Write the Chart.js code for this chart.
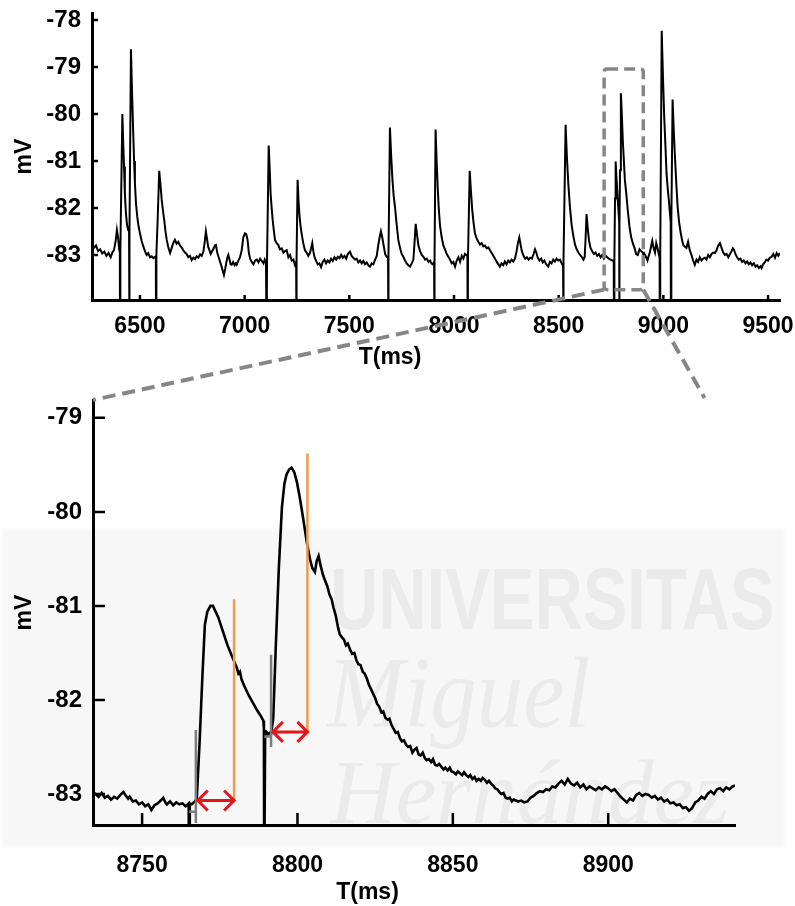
<!DOCTYPE html>
<html>
<head>
<meta charset="utf-8">
<script src="https://cdn.jsdelivr.net/npm/chart.js@4.4.1/dist/chart.umd.min.js"></script>
<style>
  html, body { margin: 0; padding: 0; background: #fff; }
  #page { position: relative; width: 795px; height: 906px; overflow: hidden; }
  #topWrap { position: absolute; left: 0; top: 0; width: 795px; height: 380px; }
  #zoomWrap { position: absolute; left: 0; top: 380px; width: 795px; height: 526px; }
  #overlay { position: absolute; left: 0; top: 0; pointer-events: none; }
  .wm-band { position: absolute; left: 5px; top: 532px; width: 777px; height: 312px;
             background: #f7f7f7; box-shadow: 0 0 6px 3px #f7f7f7; }
  .wm { position: absolute; color: #ebebeb; line-height: 1; white-space: nowrap; transform-origin: left top; }
  .wm-u { left: 330px; top: 548px; font: bold 88px 'Liberation Sans', Arial, sans-serif; transform: scaleX(0.76); }
  .wm-m { left: 327px; top: 635px; font: italic 101px 'Liberation Serif', 'Times New Roman', serif; transform: scaleX(0.92); }
  .wm-h { left: 330px; top: 740px; font: italic 91px 'Liberation Serif', 'Times New Roman', serif; }
</style>
</head>
<body>
<div id="page">
  <div class="wm-band"></div>
  <div class="wm wm-u">UNIVERSITAS</div>
  <div class="wm wm-m">Miguel</div>
  <div class="wm wm-h">Hernández</div>
  <div id="topWrap"><canvas id="overviewChart" width="795" height="380"></canvas></div>
  <div id="zoomWrap"><canvas id="zoomChart" width="795" height="526"></canvas></div>
  <canvas id="overlay" width="795" height="906"></canvas>
</div>
<script>
// upper panel: membrane potential [ms, mV]; stimulus artefacts drop below the axis
const overviewTrace = [
  [6271,-82.74],[6280,-82.85],[6290,-82.80],[6300,-82.92],[6310,-82.88],[6320,-82.97],[6330,-82.93],
  [6340,-83.02],[6350,-82.96],[6360,-83.05],[6368,-82.95],[6376,-82.90],[6384,-82.70],[6390,-82.47],
  [6396,-82.65],[6401,-82.90],[6404,-82.93],[6405,-85],[6406,-85],[6407,-82.9],[6416,-80.0],
  [6420,-80.6],[6424,-81.12],[6428,-81.7],[6433,-82.11],[6438,-82.35],[6444,-82.47],[6448,-82.5],
  [6449,-85],[6450,-85],[6451,-82.5],[6457,-78.62],[6462,-79.5],[6468,-80.41],[6472,-81.0],
  [6476,-81.47],[6481,-81.9],[6487,-82.18],[6493,-82.38],[6500,-82.54],[6508,-82.70],[6516,-82.82],
  [6524,-82.92],[6532,-83.00],[6540,-82.96],[6548,-83.05],[6556,-83.03],[6564,-83.07],[6572,-83.04],
  [6576,-83.06],[6577,-85],[6578,-85],[6579,-83.0],[6585,-82.2],[6592,-81.21],[6598,-81.5],
  [6604,-81.83],[6610,-82.06],[6616,-82.26],[6622,-82.5],[6628,-82.68],[6636,-82.85],[6644,-82.96],
  [6651,-82.86],[6659,-82.75],[6667,-82.68],[6675,-82.76],[6683,-82.72],[6691,-82.80],[6699,-82.84],
  [6707,-82.90],[6715,-82.95],[6723,-82.98],[6731,-83.05],[6739,-83.02],[6747,-83.11],[6755,-83.06],
  [6763,-83.09],[6771,-83.03],[6779,-83.06],[6787,-82.99],[6795,-83.02],[6803,-82.93],[6810,-82.70],
  [6815,-82.50],[6820,-82.65],[6826,-82.83],[6832,-82.90],[6838,-82.98],[6845,-82.92],[6852,-82.86],
  [6858,-82.80],[6863,-82.79],[6869,-82.95],[6876,-83.05],[6883,-83.15],[6890,-83.25],[6896,-83.35],
  [6901,-83.43],[6907,-83.30],[6913,-83.15],[6918,-83.05],[6922,-83.00],[6928,-83.10],[6933,-83.20],
  [6938,-83.21],[6945,-83.15],[6952,-83.22],[6958,-83.18],[6962,-83.21],[6970,-83.12],[6978,-83.05],
  [6986,-82.90],[6994,-82.62],[7002,-82.54],[7008,-82.56],[7014,-82.68],[7020,-82.95],[7026,-83.08],
  [7034,-83.15],[7042,-83.20],[7050,-83.12],[7058,-83.10],[7066,-83.16],[7074,-83.08],[7082,-83.13],
  [7090,-83.18],[7096,-83.10],[7102,-83.18],[7105,-85],[7106,-85],[7107,-83.1],[7115,-80.67],
  [7120,-81.2],[7124,-81.69],[7129,-82.0],[7134,-82.26],[7140,-82.5],[7145,-82.68],[7153,-82.75],
  [7161,-82.79],[7169,-82.88],[7177,-82.86],[7185,-82.95],[7193,-82.92],[7201,-82.90],[7209,-83.05],
  [7217,-83.00],[7225,-83.12],[7233,-83.10],[7240,-83.21],[7246,-83.15],[7247,-85],[7248,-85],
  [7249,-83.1],[7253,-81.4],[7257,-81.8],[7261,-82.11],[7266,-82.35],[7272,-82.54],[7280,-82.75],
  [7288,-82.90],[7296,-82.95],[7304,-83.02],[7312,-82.96],[7318,-82.85],[7323,-82.75],[7328,-82.92],
  [7334,-83.05],[7341,-83.12],[7349,-83.20],[7357,-83.18],[7365,-83.26],[7373,-83.15],[7381,-83.10],
  [7389,-83.18],[7397,-83.12],[7405,-83.16],[7413,-83.08],[7421,-83.13],[7429,-83.05],[7437,-83.10],
  [7445,-83.04],[7453,-83.07],[7461,-83.00],[7469,-83.06],[7477,-83.02],[7485,-83.08],[7493,-82.98],
  [7503,-82.93],[7511,-83.02],[7519,-83.06],[7527,-83.10],[7535,-83.08],[7543,-83.16],[7551,-83.12],
  [7559,-83.18],[7567,-83.13],[7575,-83.20],[7583,-83.16],[7591,-83.22],[7599,-83.25],[7607,-83.18],
  [7615,-83.20],[7623,-83.10],[7631,-83.02],[7638,-82.80],[7645,-82.62],[7651,-82.50],[7657,-82.62],
  [7664,-82.80],[7671,-82.98],[7678,-83.04],[7685,-83.06],[7686,-85],[7687,-85],[7688,-83.0],
  [7694,-80.29],[7700,-80.9],[7706,-81.4],[7712,-81.75],[7718,-81.97],[7726,-82.35],[7734,-82.68],
  [7742,-82.85],[7750,-82.98],[7758,-83.04],[7766,-83.12],[7774,-83.18],[7782,-83.22],[7790,-83.25],
  [7798,-83.18],[7806,-83.10],[7812,-82.70],[7817,-82.34],[7823,-82.55],[7830,-82.80],[7838,-82.92],
  [7846,-83.00],[7854,-83.04],[7862,-83.10],[7870,-83.08],[7878,-83.15],[7886,-83.12],[7892,-83.18],
  [7898,-83.20],[7905,-83.15],[7906,-85],[7907,-85],[7908,-83.1],[7912,-80.33],[7917,-81.0],
  [7922,-81.55],[7927,-82.0],[7933,-82.37],[7941,-82.62],[7949,-82.80],[7957,-82.88],[7965,-82.98],
  [7973,-83.04],[7981,-83.10],[7989,-83.18],[7997,-83.15],[8005,-83.25],[8013,-83.12],[8021,-83.05],
  [8029,-83.15],[8037,-83.02],[8045,-83.08],[8052,-82.98],[8058,-83.00],[8064,-83.02],[8065,-85],
  [8066,-85],[8067,-83.0],[8075,-81.21],[8081,-81.65],[8087,-82.04],[8093,-82.30],[8100,-82.54],
  [8108,-82.65],[8116,-82.72],[8124,-82.78],[8132,-82.75],[8140,-82.82],[8148,-82.80],[8156,-82.86],
  [8164,-82.84],[8172,-82.90],[8180,-82.96],[8188,-83.02],[8196,-83.08],[8204,-83.15],[8212,-83.20],
  [8219,-83.25],[8227,-83.18],[8235,-83.22],[8243,-83.14],[8251,-83.20],[8259,-83.12],[8267,-83.16],
  [8275,-83.10],[8283,-83.14],[8291,-83.08],[8298,-82.95],[8305,-82.75],[8312,-82.63],[8318,-82.78],
  [8324,-82.92],[8332,-83.02],[8340,-83.08],[8348,-83.05],[8356,-83.10],[8364,-83.06],[8372,-83.08],
  [8380,-82.98],[8387,-82.88],[8393,-82.95],[8400,-83.06],[8408,-83.12],[8416,-83.08],[8424,-83.16],
  [8432,-83.12],[8440,-83.20],[8450,-83.25],[8458,-83.15],[8466,-83.18],[8474,-83.10],[8482,-83.14],
  [8490,-83.08],[8498,-83.12],[8506,-83.10],[8512,-83.16],[8517,-83.20],[8521,-83.18],[8522,-85],
  [8523,-85],[8524,-83.1],[8533,-80.23],[8539,-80.9],[8546,-81.49],[8554,-82.0],[8562,-82.37],
  [8570,-82.60],[8578,-82.78],[8586,-82.88],[8594,-82.95],[8602,-83.00],[8610,-83.04],[8618,-83.10],
  [8624,-83.05],[8628,-82.70],[8633,-82.13],[8639,-82.45],[8645,-82.70],[8652,-82.85],[8660,-82.92],
  [8668,-82.98],[8676,-82.95],[8684,-83.02],[8692,-82.98],[8700,-83.05],[8708,-83.00],[8716,-83.08],
  [8724,-83.02],[8732,-83.05],[8740,-83.08],[8748,-83.10],[8756,-83.12],[8763,-83.13],[8764,-85],
  [8765,-85],[8766,-83.1],[8769,-81.8],[8772,-81.01],[8776,-81.35],[8781,-81.75],[8786,-82.1],
  [8789,-82.3],[8789.5,-85],[8790,-85],[8791,-82.35],[8793,-81.2],[8797,-79.56],[8801,-79.95],
  [8806,-80.55],[8811,-80.97],[8816,-81.4],[8822,-81.66],[8830,-82.05],[8838,-82.40],[8846,-82.62],
  [8854,-82.75],[8862,-82.85],[8870,-82.98],[8878,-83.00],[8886,-82.88],[8894,-82.92],[8902,-82.95],
  [8908,-83.05],[8912,-83.0],[8918,-83.05],[8924,-83.12],[8930,-83.02],[8936,-82.94],[8942,-82.80],
  [8947,-82.70],[8953,-82.85],[8960,-82.95],[8966,-82.75],[8972,-82.85],[8979,-83.00],[8982,-83.05],
  [8983,-85],[8984,-85],[8985,-83.0],[8992,-78.23],[8998,-79.2],[9004,-80.06],[9010,-80.7],
  [9015,-81.26],[9021,-81.6],[9026,-81.83],[9031,-82.10],[9035,-82.30],[9036,-85],[9037,-85],
  [9038,-82.3],[9044,-79.69],[9050,-80.4],[9056,-80.98],[9062,-81.5],[9068,-81.97],[9075,-82.3],
  [9083,-82.54],[9090,-82.70],[9096,-82.80],[9102,-82.82],[9110,-82.85],[9118,-82.72],[9126,-82.90],
  [9134,-83.00],[9142,-83.12],[9150,-83.21],[9158,-83.10],[9166,-83.15],[9174,-83.05],[9182,-83.12],
  [9190,-83.08],[9198,-83.06],[9206,-83.10],[9214,-83.00],[9222,-83.05],[9230,-82.98],[9238,-82.95],
  [9246,-82.96],[9254,-82.90],[9262,-82.80],[9270,-82.75],[9278,-82.85],[9286,-82.95],[9294,-83.00],
  [9302,-82.98],[9310,-83.05],[9318,-82.98],[9326,-82.92],[9332,-82.86],[9337,-82.89],[9344,-82.98],
  [9352,-83.05],[9360,-83.10],[9368,-83.08],[9376,-83.15],[9384,-83.12],[9392,-83.18],[9400,-83.14],
  [9408,-83.20],[9416,-83.16],[9424,-83.22],[9432,-83.18],[9440,-83.25],[9448,-83.22],[9456,-83.28],
  [9464,-83.24],[9469,-83.28],[9476,-83.20],[9484,-83.16],[9492,-83.10],[9500,-83.12],[9508,-83.06],
  [9517,-83.04],[9525,-82.98],[9533,-83.06],[9541,-82.96],[9549,-83.02],[9557,-82.96]
];
const overviewXTicks = [6500, 7000, 7500, 8000, 8500, 9000, 9500];
const overviewYTicks = [-78, -79, -80, -81, -82, -83];
// dashed box marking the zoomed window: [t0, t1, vLow, vHigh]
const zoomBox = [8717, 8904, -83.74, -79.04];

// lower panel: the two EPSPs at higher resolution
const zoomTrace = [
  [8734.2,-82.98],[8735,-83.00],[8736,-83.03],[8737,-82.99],[8738,-83.04],[8739,-83.02],[8740,-83.06],
  [8741,-83.03],[8742,-83.05],[8743,-83.01],[8744,-82.98],[8744.8,-83.02],[8745.5,-83.05],[8746,-83.03],
  [8747,-83.08],[8748,-83.07],[8749,-83.11],[8750,-83.09],[8751,-83.13],[8752,-83.11],[8753,-83.17],
  [8754,-83.12],[8755,-83.10],[8756,-83.07],[8756.8,-83.04],[8757.5,-83.09],[8758,-83.11],[8759,-83.08],
  [8760,-83.12],[8761,-83.09],[8762,-83.11],[8763,-83.10],[8764,-83.13],[8765,-83.10],[8765.1,-84],
  [8765.3,-84],[8765.4,-83.10],[8766,-83.11],[8767,-83.08],[8767.6,-83.05],[8768.5,-82.45],[8769.4,-81.75],
  [8770.2,-81.2],[8771,-81.06],[8772,-81.00],[8772.8,-81.00],[8773.5,-81.05],[8774.5,-81.12],[8775.5,-81.22],
  [8776.5,-81.32],[8777.5,-81.42],[8778.5,-81.50],[8779.5,-81.58],[8780.5,-81.66],[8781,-81.72],[8781.5,-81.70],
  [8782,-81.78],[8783,-81.86],[8784,-81.93],[8785,-81.99],[8786,-82.05],[8787,-82.11],[8788,-82.16],
  [8789,-82.22],[8789.2,-82.30],[8789.3,-84],[8789.5,-84],[8789.6,-82.33],[8790,-82.34],[8790.5,-82.37],
  [8791,-82.35],[8791.5,-82.36],[8792.2,-82.2],[8793,-81.45],[8794,-80.6],[8795,-79.95],[8795.8,-79.7],
  [8796.5,-79.6],[8797.3,-79.55],[8798.1,-79.53],[8799,-79.58],[8799.8,-79.68],[8800.6,-79.82],[8801.4,-79.98],
  [8802.2,-80.15],[8803,-80.32],[8804,-80.50],[8804.8,-80.60],[8805.6,-80.64],[8806.2,-80.52],[8806.8,-80.47],
  [8807.5,-80.58],[8808.3,-80.68],[8809,-80.74],[8809.6,-80.79],[8810.3,-80.88],[8811,-80.93],[8811.6,-81.02],
  [8812.3,-81.10],[8813,-81.22],[8813.6,-81.30],[8814.2,-81.33],[8815,-81.36],[8815.6,-81.42],[8816.2,-81.40],
  [8817,-81.47],[8817.6,-81.51],[8818.3,-81.50],[8819,-81.58],[8819.6,-81.62],[8820.3,-81.63],[8821,-81.70],
  [8821.6,-81.72],[8822.3,-81.77],[8823,-81.84],[8823.6,-81.88],[8824.3,-81.93],[8825,-81.98],[8825.6,-82.04],
  [8826.3,-82.07],[8827,-82.13],[8827.6,-82.12],[8828.3,-82.19],[8829,-82.21],[8829.6,-82.20],[8830.3,-82.27],
  [8831,-82.31],[8831.6,-82.35],[8832.3,-82.34],[8833,-82.41],[8833.6,-82.44],[8834.3,-82.43],[8835,-82.48],
  [8835.6,-82.50],[8836.3,-82.49],[8837,-82.56],[8837.6,-82.53],[8838.3,-82.51],[8839,-82.58],[8839.6,-82.59],
  [8840.3,-82.56],[8841,-82.62],[8841.6,-82.64],[8842.3,-82.63],[8843,-82.66],[8843.6,-82.63],[8844.3,-82.69],
  [8845,-82.70],[8845.6,-82.68],[8846.3,-82.71],[8847,-82.74],[8847.6,-82.72],[8848.3,-82.75],[8849,-82.72],
  [8849.6,-82.76],[8850.3,-82.77],[8851,-82.79],[8851.6,-82.76],[8852.3,-82.78],[8853,-82.80],[8853.6,-82.77],
  [8854.3,-82.80],[8855,-82.82],[8855.6,-82.80],[8856.3,-82.84],[8857,-82.82],[8857.6,-82.86],[8858.3,-82.84],
  [8859,-82.86],[8859.6,-82.83],[8860.3,-82.85],[8861,-82.88],[8861.6,-82.86],[8862.3,-82.89],[8863,-82.91],
  [8863.6,-82.94],[8864.3,-82.95],[8865,-82.98],[8865.6,-83.00],[8866.3,-82.99],[8867,-83.04],[8867.6,-83.05],
  [8868.3,-83.04],[8869,-83.08],[8869.6,-83.06],[8870.3,-83.07],
  [8871,-83.08],[8872,-83.07],[8873,-83.09],[8874,-83.08],[8875,-83.04],[8876,-83.02],
  [8877,-82.99],[8878,-82.97],[8879,-82.98],[8880,-82.95],[8881,-82.96],[8882,-82.92],[8883,-82.93],
  [8884,-82.89],[8885,-82.86],[8886,-82.90],[8887,-82.84],[8888,-82.89],[8889,-82.91],[8890,-82.88],
  [8891,-82.93],[8892,-82.90],[8893,-82.95],[8894,-82.92],[8895,-82.94],[8896,-82.96],[8897,-82.93],
  [8898,-82.95],[8899,-82.92],[8900,-82.94],[8901,-82.97],[8902,-82.95],[8903,-82.99],[8904,-83.03],
  [8905,-83.06],[8906,-83.09],[8907,-83.05],[8908,-83.07],[8909,-83.01],[8910,-82.99],[8911,-83.02],
  [8912,-83.00],[8913,-83.01],[8914,-83.04],[8915,-83.02],[8916,-83.06],[8917,-83.04],[8918,-83.08],
  [8919,-83.06],[8920,-83.10],[8921,-83.09],[8922,-83.12],[8923,-83.11],[8924,-83.15],[8925,-83.14],
  [8926,-83.18],[8927,-83.15],[8928,-83.09],[8929,-83.07],[8930,-83.03],[8931,-83.05],[8932,-83.00],
  [8933,-82.97],[8934,-83.00],[8935,-82.95],[8936,-82.94],[8937,-82.97],[8938,-82.93],[8939,-82.95],
  [8940,-82.92],[8940.8,-82.91]
];
const zoomXTicks = [8750, 8800, 8850, 8900];
const zoomYTicks = [-79, -80, -81, -82, -83];
// grey onset markers (time, from, to) and the small grey step before each onset
const onsetTimes = [8767.3, 8791.5];
const onsetSpans = [[-83.31, -82.32], [-82.50, -81.52]];
const onsetSteps = [[8765.1, -83.19], [8789.3, -82.39]];
// orange lines and red latency arrows
const halfTimes = [8779.6, 8803.2];
const halfSpans = [[-83.07, -80.93], [-82.34, -79.38]];
const arrowStarts = [8767.9, 8792.1];
const arrowLevels = [-83.07, -82.34];
// where the dashed connectors land on the lower panel's top edge
const connectorEnds = [8734.2, 8931];

const FONT = "'Liberation Sans', Arial, Helvetica, sans-serif";
Chart.defaults.font.family = FONT;
Chart.defaults.font.weight = 'bold';
Chart.defaults.color = '#000';

const toXY = arr => arr.map(p => ({ x: p[0], y: p[1] }));

// draws the tick marks on the inside of the axes
const inwardTicks = {
  id: 'inwardTicks',
  afterDatasetsDraw(chart, args, opts) {
    const { ctx, chartArea, scales: { x, y } } = chart;
    ctx.save();
    ctx.strokeStyle = '#000';
    ctx.lineWidth = opts.width;
    ctx.beginPath();
    opts.xTicks.forEach(v => {
      const px = x.getPixelForValue(v);
      ctx.moveTo(px, chartArea.bottom);
      ctx.lineTo(px, chartArea.bottom - opts.xLen);
    });
    opts.yTicks.forEach(v => {
      const py = y.getPixelForValue(v);
      ctx.moveTo(chartArea.left, py);
      ctx.lineTo(chartArea.left + opts.yLen, py);
    });
    ctx.stroke();
    ctx.restore();
  }
};

const zoomBoxPlugin = {
  id: 'zoomBox',
  afterDraw(chart) {
    const { ctx, scales: { x, y } } = chart;
    const x0 = x.getPixelForValue(zoomBox[0]), x1 = x.getPixelForValue(zoomBox[1]);
    const y0 = y.getPixelForValue(zoomBox[3]), y1 = y.getPixelForValue(zoomBox[2]);
    ctx.save();
    ctx.strokeStyle = '#868686';
    ctx.lineWidth = 3.5;
    ctx.setLineDash([11, 6]);
    ctx.lineJoin = 'round';
    ctx.beginPath();
    ctx.roundRect(x0, y0, x1 - x0, y1 - y0, 3);
    ctx.stroke();
    ctx.restore();
  }
};

const annotations = {
  id: 'annotations',
  afterDatasetsDraw(chart) {
    const { ctx, scales: { x, y } } = chart;
    ctx.save();
    ctx.lineCap = 'butt';
    // grey onset markers
    ctx.strokeStyle = '#7d7d7d';
    ctx.lineWidth = 2.5;
    onsetTimes.forEach((t, i) => {
      const px = x.getPixelForValue(t);
      ctx.beginPath();
      ctx.moveTo(px, y.getPixelForValue(onsetSpans[i][0]));
      ctx.lineTo(px, y.getPixelForValue(onsetSpans[i][1]));
      ctx.moveTo(x.getPixelForValue(onsetSteps[i][0]), y.getPixelForValue(onsetSteps[i][1]));
      ctx.lineTo(px, y.getPixelForValue(onsetSteps[i][1]));
      ctx.stroke();
    });
    // orange lines
    ctx.strokeStyle = '#ee9a4c';
    ctx.lineWidth = 2.5;
    halfTimes.forEach((t, i) => {
      const px = x.getPixelForValue(t);
      ctx.beginPath();
      ctx.moveTo(px, y.getPixelForValue(halfSpans[i][0]));
      ctx.lineTo(px, y.getPixelForValue(halfSpans[i][1]));
      ctx.stroke();
    });
    // red double arrows
    ctx.strokeStyle = '#e8141c';
    ctx.lineWidth = 3;
    ctx.lineJoin = 'miter';
    const head = 10;
    arrowStarts.forEach((t, i) => {
      const xa = x.getPixelForValue(t), xb = x.getPixelForValue(halfTimes[i]);
      const py = y.getPixelForValue(arrowLevels[i]);
      ctx.beginPath();
      ctx.moveTo(xa, py); ctx.lineTo(xb, py);
      ctx.moveTo(xa + head, py - head); ctx.lineTo(xa, py); ctx.lineTo(xa + head, py + head);
      ctx.moveTo(xb - head, py - head); ctx.lineTo(xb, py); ctx.lineTo(xb - head, py + head);
      ctx.stroke();
    });
    ctx.restore();
  }
};

function makeChart(canvasId, trace, cfg) {
  return new Chart(document.getElementById(canvasId), {
    type: 'line',
    data: {
      datasets: [{
        data: toXY(trace),
        borderColor: '#000',
        borderWidth: cfg.lineWidth,
        pointRadius: 0,
        tension: 0,
        fill: false
      }]
    },
    options: {
      responsive: false,
      animation: false,
      events: [],
      layout: { padding: cfg.padding },
      plugins: {
        legend: { display: false },
        tooltip: { enabled: false },
        title: {
          display: true, text: 'T(ms)', position: 'bottom',
          font: { size: 23, weight: 'bold' }, color: '#000',
          padding: cfg.titlePad
        },
        inwardTicks: { xTicks: cfg.xTicks, yTicks: cfg.yTicks, xLen: cfg.xTickLen, yLen: cfg.yTickLen, width: 2.5 }
      },
      scales: {
        x: {
          type: 'linear', min: cfg.xMin, max: cfg.xMax,
          grid: { display: false, drawTicks: false },
          border: { display: true, color: '#000', width: 3 },
          ticks: { font: { size: 23, weight: 'bold' }, color: '#000', padding: cfg.xLabelPad,
                   maxRotation: 0, callback: v => String(v) },
          afterBuildTicks: s => { s.ticks = cfg.xTicks.map(v => ({ value: v })); },
          afterFit: s => { s.height = cfg.xAxisHeight; s.paddingLeft = 0; s.paddingRight = 0; }
        },
        y: {
          type: 'linear', min: cfg.yMin, max: cfg.yMax,
          grid: { display: false, drawTicks: false },
          border: { display: true, color: '#000', width: 3 },
          ticks: { font: { size: 24, weight: 'bold' }, color: '#000', padding: 11, callback: v => String(v) },
          title: { display: true, text: 'mV', font: { size: 23, weight: 'bold' }, color: '#000',
                   padding: { top: 11, bottom: 0 } },
          afterBuildTicks: s => { s.ticks = cfg.yTicks.map(v => ({ value: v })); },
          afterFit: s => { s.width = cfg.yAxisWidth; s.paddingTop = 0; s.paddingBottom = 0; }
        }
      }
    },
    plugins: cfg.plugins
  });
}

const overviewChart = makeChart('overviewChart', overviewTrace, {
  lineWidth: 2,
  xMin: 6271, xMax: 9557, yMin: -83.96, yMax: -77.85,
  xTicks: overviewXTicks, yTicks: overviewYTicks,
  xTickLen: 5, yTickLen: 6,
  padding: { left: 0, right: 15, top: 13, bottom: 0 },
  titlePad: { top: 0, bottom: 9 },
  xAxisHeight: 43.4, yAxisWidth: 92, xLabelPad: 13,
  plugins: [inwardTicks, zoomBoxPlugin]
});

const zoomChart = makeChart('zoomChart', zoomTrace, {
  lineWidth: 2.6,
  xMin: 8734.2, xMax: 8940.8, yMin: -83.33, yMax: -78.81,
  xTicks: zoomXTicks, yTicks: zoomYTicks,
  xTickLen: 12, yTickLen: 12,
  padding: { left: 0, right: 60, top: 20, bottom: 0 },
  titlePad: { top: 0, bottom: 0 },
  xAxisHeight: 53.4, yAxisWidth: 93, xLabelPad: 27,
  plugins: [inwardTicks, annotations]
});

// dashed lines joining the box in the upper panel to the lower panel
(function drawConnectors() {
  const ctx = document.getElementById('overlay').getContext('2d');
  const offY = document.getElementById('zoomWrap').offsetTop;
  const tx = overviewChart.scales.x, ty = overviewChart.scales.y;
  const zx = zoomChart.scales.x, zy = zoomChart.scales.y;
  const boxBottom = ty.getPixelForValue(zoomBox[2]);
  const zoomTop = zy.getPixelForValue(zy.max) + offY;
  ctx.strokeStyle = '#868686';
  ctx.lineWidth = 4;
  ctx.setLineDash([13, 7]);
  ctx.beginPath();
  ctx.moveTo(tx.getPixelForValue(zoomBox[0]), boxBottom);
  ctx.lineTo(zx.getPixelForValue(connectorEnds[0]), zoomTop);
  ctx.moveTo(tx.getPixelForValue(zoomBox[1]), boxBottom);
  ctx.lineTo(zx.getPixelForValue(connectorEnds[1]), zoomTop - 2);
  ctx.stroke();
})();
</script>
</body>
</html>
